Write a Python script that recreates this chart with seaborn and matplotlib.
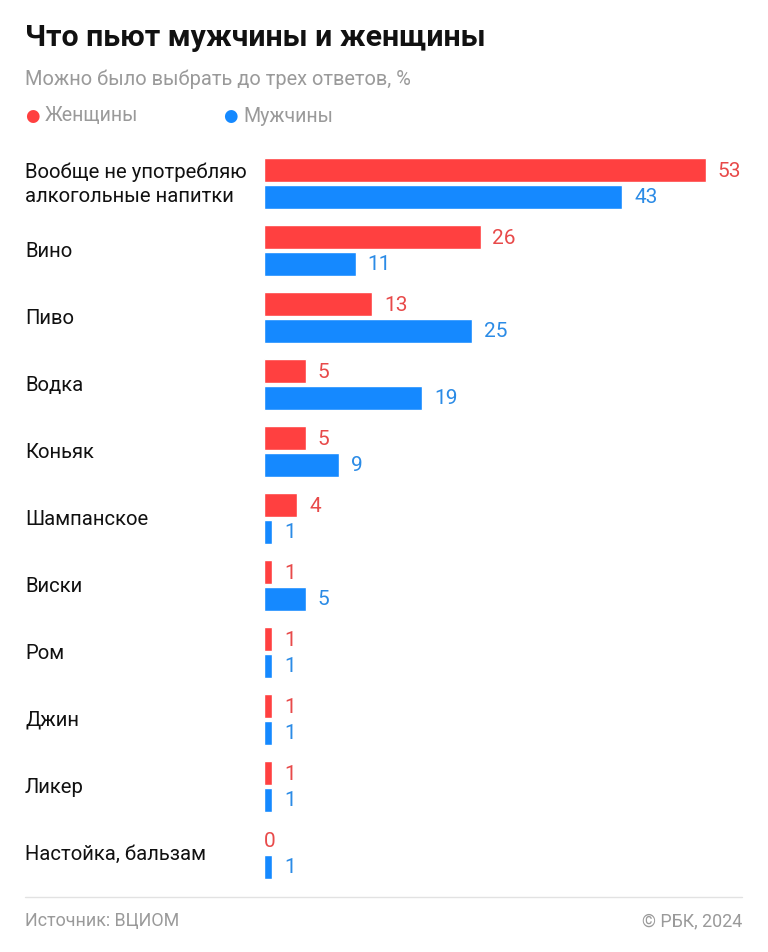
import numpy as np
import pandas as pd
import matplotlib
matplotlib.use("Agg")
import matplotlib.pyplot as plt
import seaborn as sns

# данные
categories = [
    "Вообще не употребляю\nалкогольные напитки",
    "Вино",
    "Пиво",
    "Водка",
    "Коньяк",
    "Шампанское",
    "Виски",
    "Ром",
    "Джин",
    "Ликер",
    "Настойка, бальзам",
]
women = [53, 26, 13, 5, 5, 4, 1, 1, 1, 1, 0]
men = [43, 11, 25, 19, 9, 1, 5, 1, 1, 1, 1]
series = ["Женщины", "Мужчины"]

RED = "#ff4040"
BLUE = "#1589ff"
RED_TXT = "#e84a4a"
BLUE_TXT = "#2b8be6"
GRAY = "#9a9a9a"

W, H = 768, 953


def fx(px):
    return px / W


def fy(py):
    return 1 - py / H


df = pd.DataFrame({
    "cat": categories * 2,
    "value": women + men,
    "sex": [series[0]] * len(women) + [series[1]] * len(men),
})

sns.set_theme(style="white")
plt.rcParams["font.family"] = ["Roboto", "DejaVu Sans"]

fig = plt.figure(figsize=(W / 100, H / 100), dpi=100)
ax = fig.add_axes([fx(264), fy(888), 500 / W, (888 - 151) / H])

sns.barplot(data=df, y="cat", x="value", hue="sex", hue_order=series,
            palette=[RED, BLUE], orient="h", width=0.8, gap=0.1,
            legend=False, ax=ax, saturation=1)

ax.set_xlim(0, 60)
ax.set_ylim(len(categories) - 0.5, -0.5)
ax.set_xlabel("")
ax.set_ylabel("")
ax.set_xticks([])
sns.despine(ax=ax, left=True, bottom=True)

# подписи категорий слева, выровненные по левому краю
ax.tick_params(axis="y", length=0, pad=(264 - 25) * 0.72)
for lab in ax.get_yticklabels():
    lab.set_ha("left")
    lab.set_va("center")
    lab.set_fontsize(14.6)
    lab.set_color("#111111")
    lab.set_linespacing(1.35)

# значения у концов столбиков
for cont, color in zip(ax.containers, [RED_TXT, BLUE_TXT]):
    for bar in cont:
        v = bar.get_width()
        y = bar.get_y() + bar.get_height() / 2
        off = 8.5 if v > 0 else 0
        ax.annotate(f"{v:.0f}", (v, y), xytext=(off, 0), textcoords="offset points",
                    ha="left", va="center", fontsize=15, color=color)

# заголовок
fig.text(fx(25), fy(38), "Что пьют мужчины и женщины", fontsize=21.8,
         fontweight="bold", color="#111111", ha="left", va="center")
fig.text(fx(25), fy(79), "Можно было выбрать до трех ответов, %", fontsize=14.4,
         color=GRAY, ha="left", va="center")

# легенда
for px, name, color in [(25, series[0], RED), (223, series[1], BLUE)]:
    fig.text(fx(px), fy(116), "●", fontsize=12, color=color, ha="left",
             va="center", family="DejaVu Sans")
    fig.text(fx(px + 20), fy(116), name, fontsize=14.1, color=GRAY,
             ha="left", va="center")

# линия и подвал
fig.add_artist(plt.Line2D([fx(25), fx(742)], [fy(898), fy(898)],
                          color="#e2e2e2", lw=1))
fig.text(fx(25), fy(921), "Источник: ВЦИОМ", fontsize=12.9, color=GRAY,
         ha="left", va="center")
fig.text(fx(742), fy(921), "© РБК, 2024", fontsize=12.9, color=GRAY,
         ha="right", va="center")

fig.savefig("out.png", dpi=100, facecolor="white")
